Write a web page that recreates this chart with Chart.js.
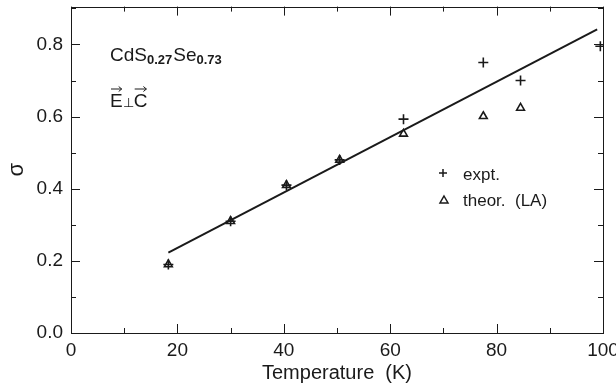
<!DOCTYPE html>
<html>
<head>
<meta charset="utf-8">
<script src="https://cdn.jsdelivr.net/npm/chart.js@4/dist/chart.umd.min.js"></script>
<style>
  body { margin: 0; background: #fff; }
  #wrap { width: 616px; height: 389px; }
</style>
</head>
<body>
<div id="wrap"><canvas id="chart" width="616" height="389"></canvas></div>
<script>
// data
const temps = [18.3, 30, 40.5, 50.5, 62.5, 77.5, 84.5, 99.5];
const expt = [0.19, 0.31, 0.41, 0.48, 0.593, 0.75, 0.70, 0.795];
const theorTemps = [18.3, 30, 40.5, 50.5, 62.5, 77.5, 84.5];
const theor = [0.19, 0.31, 0.41, 0.48, 0.552, 0.601, 0.624];
const fitX = [18.3, 98.9];
const fitY = [0.223, 0.842];
const xTicks = [0, 20, 40, 60, 80, 100];
const yTicks = [0.0, 0.2, 0.4, 0.6, 0.8];

const FONT = '"Liberation Sans", Arial, sans-serif';
const INK = '#1a1a1a';

// frame, inward ticks on all four sides, annotations
const decor = {
  id: 'decor',
  afterDraw(chart) {
    const ctx = chart.ctx;
    const { left, right, top, bottom } = chart.chartArea;
    const xs = chart.scales.x, ys = chart.scales.y;
    ctx.save();
    ctx.strokeStyle = INK;
    ctx.lineWidth = 1;
    ctx.strokeRect(Math.round(left) + 0.5, Math.round(top) + 0.5, Math.round(right - left), Math.round(bottom - top));
    for (let v = 0; v <= 100; v += 10) {
      const px = Math.round(xs.getPixelForValue(v)) + 0.5;
      const len = v % 20 === 0 ? 9 : 5;
      ctx.beginPath();
      ctx.moveTo(px, bottom); ctx.lineTo(px, bottom - len);
      ctx.moveTo(px, top); ctx.lineTo(px, top + len);
      ctx.stroke();
    }
    for (let i = 0; i <= 9; i++) {
      const v = i / 10;
      const py = Math.round(ys.getPixelForValue(v)) + 0.5;
      const len = i % 2 === 0 ? 9 : 5;
      ctx.beginPath();
      ctx.moveTo(left, py); ctx.lineTo(left + len, py);
      ctx.moveTo(right, py); ctx.lineTo(right - len, py);
      ctx.stroke();
    }

    ctx.fillStyle = INK;
    ctx.textBaseline = 'alphabetic';
    // compound label
    let x = 110;
    const big = '19px ' + FONT, small = 'bold 13px ' + FONT;
    const parts = [['CdS', big, 61], ['0.27', small, 64], ['Se', big, 61], ['0.73', small, 64]];
    parts.forEach(([t, f, y]) => {
      ctx.font = f;
      ctx.fillText(t, x, y);
      x += ctx.measureText(t).width + (f === small ? 1 : 0);
    });
    // E perp C with vector arrows
    ctx.font = big;
    const wE = ctx.measureText('E').width;
    ctx.fillText('E', 110, 107);
    ctx.font = '13px ' + FONT;
    const wP = ctx.measureText('⊥').width;
    ctx.fillText('⊥', 110 + wE, 107);
    ctx.font = big;
    const cx = 110 + wE + wP;
    const wC = ctx.measureText('C').width;
    ctx.fillText('C', cx, 107);
    const arrow = (x0, w) => {
      ctx.beginPath();
      ctx.moveTo(x0 + 1, 89); ctx.lineTo(x0 + w - 1, 89);
      ctx.moveTo(x0 + w - 4, 86.5); ctx.lineTo(x0 + w - 1, 89); ctx.lineTo(x0 + w - 4, 91.5);
      ctx.stroke();
    };
    arrow(110, wE);
    arrow(cx, wC);

    // legend
    ctx.font = '17px ' + FONT;
    ctx.fillText('expt.', 463, 180);
    ctx.fillText('theor.  (LA)', 463, 206);
    ctx.lineWidth = 1.5;
    ctx.beginPath();
    ctx.moveTo(439, 173); ctx.lineTo(447, 173);
    ctx.moveTo(443, 169); ctx.lineTo(443, 177);
    ctx.stroke();
    ctx.beginPath();
    ctx.moveTo(444, 196); ctx.lineTo(448, 203); ctx.lineTo(440, 203); ctx.closePath();
    ctx.stroke();
    ctx.restore();
  }
};

new Chart(document.getElementById('chart'), {
  type: 'scatter',
  data: {
    datasets: [
      {
        label: 'fit',
        type: 'line',
        data: fitX.map((t, i) => ({ x: t, y: fitY[i] })),
        borderColor: INK,
        borderWidth: 2,
        pointRadius: 0,
        fill: false
      },
      {
        label: 'expt.',
        data: temps.map((t, i) => ({ x: t, y: expt[i] })),
        pointStyle: 'cross',
        pointRadius: 5,
        borderColor: INK,
        borderWidth: 1.6
      },
      {
        label: 'theor. (LA)',
        data: theorTemps.map((t, i) => ({ x: t, y: theor[i] })),
        pointStyle: 'triangle',
        pointRadius: 4.5,
        borderColor: INK,
        backgroundColor: 'rgba(0,0,0,0)',
        borderWidth: 1.6
      }
    ]
  },
  options: {
    responsive: false,
    animation: false,
    layout: { padding: { top: 4, right: 13, left: 0, bottom: 0 } },
    plugins: { legend: { display: false }, tooltip: { enabled: false } },
    scales: {
      x: {
        type: 'linear',
        min: 0, max: 100,
        afterFit(s) { s.height = 56; s.paddingLeft = 0; s.paddingRight = 0; },
        afterBuildTicks(s) { s.ticks = xTicks.map(v => ({ value: v })); },
        grid: { display: false, drawTicks: false },
        border: { display: false },
        ticks: { font: { size: 19, family: FONT }, color: INK, padding: 6 },
        title: { display: true, text: 'Temperature  (K)', font: { size: 20, family: FONT }, color: INK, padding: { top: 4 } }
      },
      y: {
        min: 0, max: 0.905,
        afterFit(s) { s.width = 71; s.paddingTop = 0; s.paddingBottom = 0; },
        afterBuildTicks(s) { s.ticks = yTicks.map(v => ({ value: v })); },
        grid: { display: false, drawTicks: false },
        border: { display: false },
        ticks: { font: { size: 19, family: FONT }, color: INK, padding: 8, callback: v => v.toFixed(1) },
        title: { display: true, text: 'σ', font: { size: 22, family: FONT }, color: INK, padding: { bottom: 2 } }
      }
    }
  },
  plugins: [decor]
});
</script>
</body>
</html>
